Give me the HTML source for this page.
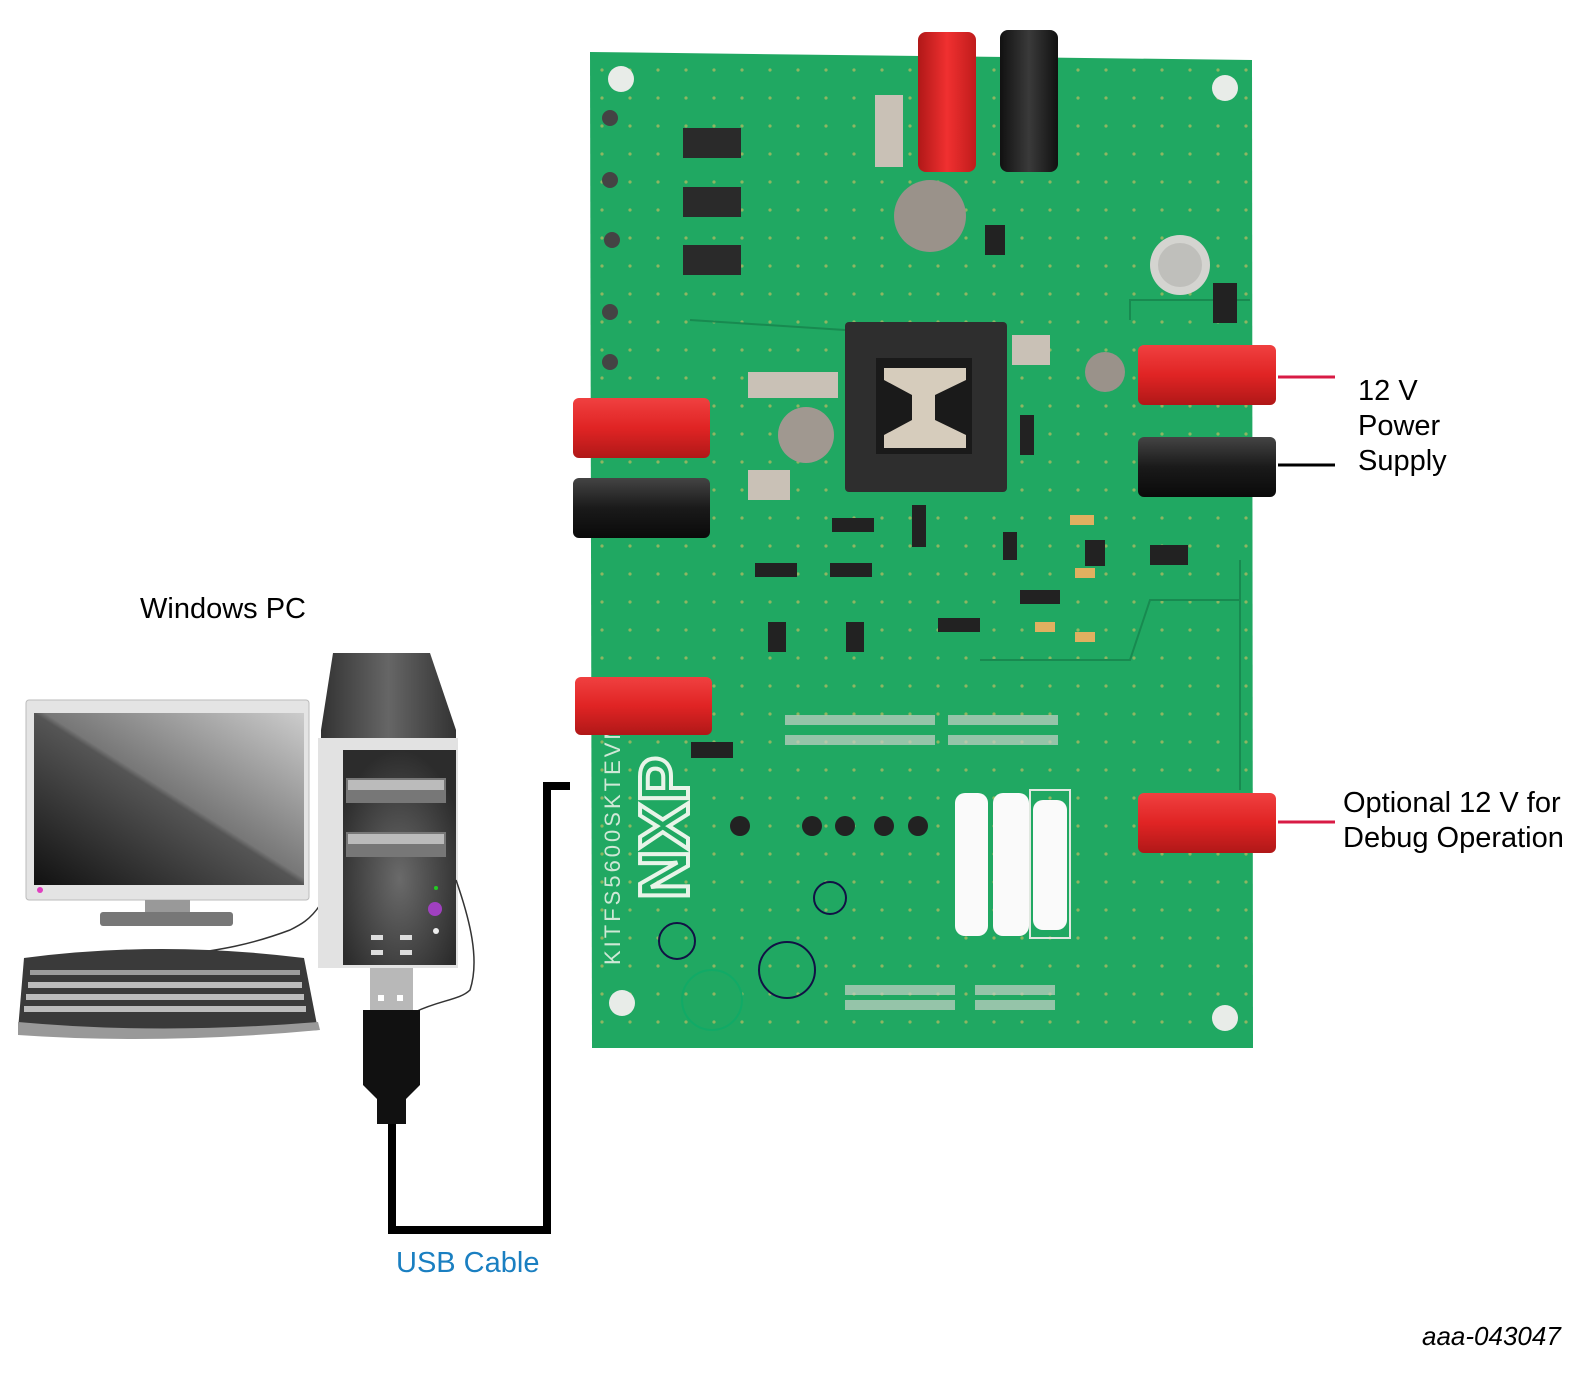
<!DOCTYPE html>
<html><head><meta charset="utf-8"><style>
html,body{margin:0;padding:0;background:#fff;}
svg{display:block}
text{font-family:"Liberation Sans",sans-serif;}
</style></head><body>
<svg width="1592" height="1375" viewBox="0 0 1592 1375" xmlns="http://www.w3.org/2000/svg">
<defs>
<linearGradient id="scr" x1="0" y1="1" x2="1" y2="0"><stop offset="0" stop-color="#111"/><stop offset="0.5" stop-color="#555"/><stop offset="0.52" stop-color="#777"/><stop offset="1" stop-color="#ccc"/></linearGradient>
<linearGradient id="red" x1="0" y1="0" x2="0" y2="1"><stop offset="0" stop-color="#f04040"/><stop offset="0.5" stop-color="#e02424"/><stop offset="1" stop-color="#b01818"/></linearGradient>
<linearGradient id="blk" x1="0" y1="0" x2="0" y2="1"><stop offset="0" stop-color="#444"/><stop offset="0.5" stop-color="#1a1a1a"/><stop offset="1" stop-color="#0a0a0a"/></linearGradient>
<linearGradient id="redv" x1="0" y1="0" x2="1" y2="0"><stop offset="0" stop-color="#b01818"/><stop offset="0.5" stop-color="#f03030"/><stop offset="1" stop-color="#c01c1c"/></linearGradient>
<linearGradient id="blkv" x1="0" y1="0" x2="1" y2="0"><stop offset="0" stop-color="#111"/><stop offset="0.5" stop-color="#3a3a3a"/><stop offset="1" stop-color="#111"/></linearGradient>
<linearGradient id="top" x1="0" y1="0" x2="1" y2="0"><stop offset="0" stop-color="#333"/><stop offset="0.5" stop-color="#666"/><stop offset="1" stop-color="#333"/></linearGradient>
<radialGradient id="front" cx="0.5" cy="0.6" r="0.6"><stop offset="0" stop-color="#6a6a6a"/><stop offset="1" stop-color="#2c2c2c"/></radialGradient>
<pattern id="dots" width="28" height="28" patternUnits="userSpaceOnUse"><circle cx="14" cy="14" r="1.6" fill="#d8c060"/></pattern>
</defs>

<polygon points="590,52 1252,60 1253,1048 592,1048" fill="#20a862"/>
<polygon points="590,52 1252,60 1253,1048 592,1048" fill="url(#dots)" opacity="0.6"/>
<g fill="#e8ece8"><circle cx="621" cy="79" r="13"/><circle cx="1225" cy="88" r="13"/><circle cx="622" cy="1003" r="13"/><circle cx="1225" cy="1018" r="13"/></g>
<g stroke="#188a50" stroke-width="2" fill="none"><path d="M1130 320 L1130 300 L1250 300"/><path d="M1240 560 L1240 790"/><path d="M980 660 L1130 660 L1150 600 L1240 600"/><path d="M690 320 L845 330"/></g>

<g fill="#2a2a2a"><rect x="683" y="128" width="58" height="30"/><rect x="683" y="187" width="58" height="30"/><rect x="683" y="245" width="58" height="30"/></g>
<g fill="#444"><circle cx="610" cy="118" r="8"/><circle cx="610" cy="180" r="8"/><circle cx="612" cy="240" r="8"/><circle cx="610" cy="312" r="8"/><circle cx="610" cy="362" r="8"/></g>
<g fill="#c9c1b6"><rect x="875" y="95" width="28" height="72"/><rect x="748" y="372" width="90" height="26"/><rect x="1012" y="335" width="38" height="30"/><rect x="748" y="470" width="42" height="30"/></g>
<circle cx="930" cy="216" r="36" fill="#9a928a"/><circle cx="806" cy="435" r="28" fill="#a09890"/><circle cx="1105" cy="372" r="20" fill="#9a928a"/>
<circle cx="1180" cy="265" r="30" fill="#d4d4d0"/><circle cx="1180" cy="265" r="22" fill="#bfbfbb"/>
<rect x="1213" y="283" width="24" height="40" fill="#222"/><rect x="985" y="225" width="20" height="30" fill="#222"/>
<rect x="845" y="322" width="162" height="170" rx="4" fill="#2e2e2e"/>
<rect x="876" y="358" width="96" height="96" fill="#1a1a1a"/>
<path d="M884 368 H966 V380 L935 395 V420 L966 435 V448 H884 V435 L912 420 V395 L884 380 Z" fill="#d6ccbc"/>
<g fill="#222"><rect x="755" y="563" width="42" height="14"/><rect x="830" y="563" width="42" height="14"/><rect x="832" y="518" width="42" height="14"/><rect x="912" y="505" width="14" height="42"/><rect x="1003" y="532" width="14" height="28"/><rect x="1020" y="415" width="14" height="40"/><rect x="768" y="622" width="18" height="30"/><rect x="846" y="622" width="18" height="30"/><rect x="938" y="618" width="42" height="14"/><rect x="1020" y="590" width="40" height="14"/><rect x="1150" y="545" width="38" height="20"/><rect x="691" y="742" width="42" height="16"/><rect x="1085" y="540" width="20" height="26"/></g>
<g fill="#e0b060"><rect x="1070" y="515" width="24" height="10"/><rect x="1075" y="568" width="20" height="10"/><rect x="1035" y="622" width="20" height="10"/><rect x="1075" y="632" width="20" height="10"/></g>
<g fill="#c8d0c8">
<rect x="785" y="715" width="150" height="10" opacity="0.7"/><rect x="785" y="735" width="150" height="10" opacity="0.7"/>
<rect x="948" y="715" width="110" height="10" opacity="0.7"/><rect x="948" y="735" width="110" height="10" opacity="0.7"/>
<rect x="845" y="985" width="110" height="10" opacity="0.7"/><rect x="845" y="1000" width="110" height="10" opacity="0.7"/>
<rect x="975" y="985" width="80" height="10" opacity="0.7"/><rect x="975" y="1000" width="80" height="10" opacity="0.7"/>
</g>
<g fill="#222"><circle cx="740" cy="826" r="10"/><circle cx="812" cy="826" r="10"/><circle cx="845" cy="826" r="10"/><circle cx="884" cy="826" r="10"/><circle cx="918" cy="826" r="10"/></g>
<rect x="955" y="793" width="33" height="143" rx="10" fill="#fafafa"/><rect x="993" y="793" width="36" height="143" rx="10" fill="#fafafa"/><rect x="1033" y="800" width="34" height="130" rx="10" fill="#fafafa"/>
<rect x="1030" y="790" width="40" height="148" fill="none" stroke="#e0e8e0" stroke-width="2"/>
<text x="0" y="0" transform="translate(688,900) rotate(-90)" font-size="70" font-weight="bold" fill="none" stroke="#e8f4e8" stroke-width="4">NXP</text>
<text x="0" y="0" transform="translate(620,965) rotate(-90)" font-size="22" fill="#cfe8d6" letter-spacing="3">KITFS5600SKTEVM</text>
<g fill="none" stroke="#114" stroke-width="2"><circle cx="677" cy="941" r="18"/><circle cx="787" cy="970" r="28"/><circle cx="712" cy="1000" r="30" stroke="#1a6" /><circle cx="830" cy="898" r="16"/></g>

<rect x="918" y="32" width="58" height="140" rx="8" fill="url(#redv)"/>
<rect x="1000" y="30" width="58" height="142" rx="8" fill="url(#blkv)"/>
<rect x="573" y="398" width="137" height="60" rx="6" fill="url(#red)"/>
<rect x="573" y="478" width="137" height="60" rx="6" fill="url(#blk)"/>
<rect x="575" y="677" width="137" height="58" rx="6" fill="url(#red)"/>
<rect x="1138" y="345" width="138" height="60" rx="6" fill="url(#red)"/>
<rect x="1138" y="437" width="138" height="60" rx="6" fill="url(#blk)"/>
<rect x="1138" y="793" width="138" height="60" rx="6" fill="url(#red)"/>

<line x1="1278" y1="377" x2="1335" y2="377" stroke="#d81b45" stroke-width="3"/>
<line x1="1278" y1="465" x2="1335" y2="465" stroke="#000" stroke-width="3"/>
<line x1="1278" y1="822" x2="1335" y2="822" stroke="#d81b45" stroke-width="3"/>

<text x="1358" y="400" font-size="29">12 V</text>
<text x="1358" y="435" font-size="29">Power</text>
<text x="1358" y="470" font-size="29">Supply</text>
<text x="1343" y="812" font-size="29">Optional 12 V for</text>
<text x="1343" y="847" font-size="29">Debug Operation</text>
<text x="140" y="618" font-size="29">Windows PC</text>
<text x="396" y="1272" font-size="29" fill="#1a7fc1">USB Cable</text>
<text x="1422" y="1345" font-size="26" font-style="italic">aaa-043047</text>

<path d="M392 1120 V1230 H547 V786 H570" fill="none" stroke="#000" stroke-width="8"/>

<rect x="26" y="700" width="283" height="200" rx="3" fill="#e4e4e4" stroke="#bbb"/>
<rect x="34" y="713" width="270" height="172" fill="url(#scr)"/>
<circle cx="40" cy="890" r="3" fill="#e040c0"/>
<rect x="145" y="900" width="45" height="14" fill="#999"/>
<rect x="100" y="912" width="133" height="14" rx="3" fill="#777"/>
<path d="M180 955 C220 950 250 945 290 930 C300 925 310 920 320 905" stroke="#333" fill="none" stroke-width="1.5"/>
<path d="M24 958 Q160 940 304 958 L318 1030 Q160 1042 18 1030 Z" fill="#3a3a3a"/>
<path d="M18 1022 Q160 1035 318 1022 L320 1030 Q160 1045 18 1035 Z" fill="#999"/>
<g fill="#ddd">
<rect x="30" y="970" width="270" height="5" opacity="0.6"/><rect x="28" y="982" width="274" height="6" opacity="0.8"/><rect x="26" y="994" width="278" height="6" opacity="0.8"/><rect x="24" y="1006" width="282" height="6" opacity="0.8"/>
</g>
<path d="M333 653 H430 L456 730 L456 740 H321 V730 Z" fill="url(#top)"/>
<rect x="318" y="738" width="140" height="230" fill="#e2e2e2"/>
<rect x="343" y="750" width="113" height="215" fill="url(#front)"/>
<rect x="346" y="778" width="100" height="25" fill="#777"/><rect x="348" y="780" width="96" height="10" fill="#bbb"/>
<rect x="346" y="832" width="100" height="25" fill="#777"/><rect x="348" y="834" width="96" height="10" fill="#bbb"/>
<circle cx="435" cy="909" r="7" fill="#a040c0"/><circle cx="436" cy="888" r="2" fill="#2c2"/><circle cx="436" cy="931" r="3" fill="#eee"/>
<g fill="#ddd"><rect x="371" y="935" width="12" height="5"/><rect x="400" y="935" width="12" height="5"/><rect x="371" y="950" width="12" height="5"/><rect x="400" y="950" width="12" height="5"/></g>
<path d="M456 880 C470 920 480 960 470 990 C460 1000 440 1000 415 1012" stroke="#333" fill="none" stroke-width="1.5"/>
<rect x="370" y="968" width="43" height="44" fill="#b8b8b8"/>
<rect x="378" y="995" width="6" height="6" fill="#fff"/><rect x="397" y="995" width="6" height="6" fill="#fff"/>
<path d="M363 1010 H420 V1085 L405 1100 H378 L363 1085 Z" fill="#111"/>
<rect x="377" y="1098" width="29" height="26" fill="#111"/>
</svg>
</body></html>
